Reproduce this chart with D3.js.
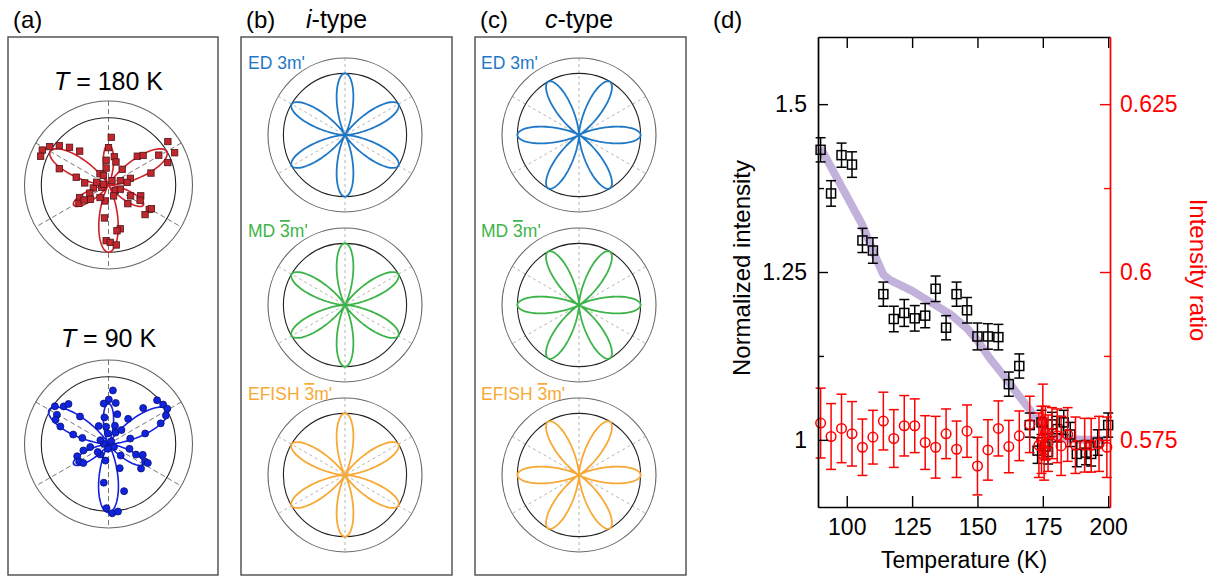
<!DOCTYPE html>
<html><head><meta charset="utf-8">
<script src="https://cdn.jsdelivr.net/npm/d3@7/dist/d3.min.js"></script>
<style>
body{margin:0;background:#fff}
svg{display:block}
text{font-family:"Liberation Sans",Arial,sans-serif}
</style>
</head><body>
<svg id="c" width="1222" height="578"></svg>
<script>
// ---------------- DATA ----------------
// Panel (a): polar SHG data (angle in degrees, normalized intensity)
const redAngle = [86.7,90,78.4,95.5,72,98,127,49,17,15.7,45,40.5,30.7,36.2,26,20.7,152.2,157,146.8,141.3,136,130.4,161.7,166.4,175,191,199,203.5,211.8,203.6,218.4,211.5,333.8,341.4,334.2,316,329,321,331,263,285,280.5,267.6,271.7,277.4,172,52,320,258,341,295,20,167,118,8,236];
const redValue = [0.71,0.556,0.43,0.37,0.36,0.255,0.21,0.31,0.34,0.656,0.606,0.677,0.87,1.095,1.095,0.944,1.114,1.097,1.044,0.938,0.807,0.662,0.771,0.494,0.355,0.23,0.107,0.468,0.517,0.303,0.342,0.426,0.366,0.506,0.522,0.40,0.707,0.70,0.73,0.494,0.675,0.693,0.829,0.854,0.90,0.076,0.083,0.133,0.243,0.187,0.179,0.189,0.18,0.16,0.28,0.225];
const blueAngle = [85.3,89.6,96.7,80,98.7,73.5,70.6,97.8,93.7,58,52,46,42,35.8,31,26.4,21.6,16,14,47,144.9,140,135,150.5,155.5,160,136,118.6,165,166.9,189.5,194.4,201.4,211,217,232,216.8,347,339,342.4,334.3,334.2,323,316.7,259.6,263,294.9,288.3,268.2,273.1,278,176,45,331,262,155];
const blueValue = [0.80,0.662,0.606,0.62,0.40,0.463,0.289,0.26,0.157,0.20,0.475,0.743,0.973,1.003,1.02,0.953,0.836,0.568,0.333,0.283,0.975,0.871,0.842,0.882,0.866,0.762,0.589,0.305,0.544,0.40,0.276,0.386,0.50,0.508,0.469,0.198,0.2,0.321,0.438,0.535,0.605,0.65,0.606,0.25,0.251,0.58,0.396,0.739,0.955,1.032,1.015,0.071,0.057,0.093,0.071,0.133];
const fitTitles = ["180 K", "90 K"];
const fitMajorLobe = [1.0, 1.02];   // fitted lobe maxima (directions 30,150,270 deg)
const fitMinorLobe = [0.60, 0.60];  // fitted lobe maxima (directions 90,210,330 deg)

// Panels (b),(c): symmetry models
const modeNames = ["ED", "MD", "EFISH"];
const modeGroup = ["3m'", "3m'", "3m'"];
const modeBar = [false, true, true];
const modeColors = ["#1f78c6", "#3db449", "#f8a935"];
const petalDirection = {b: 90, c: 0}; // degrees of one petal
const petalAmp = [1, 1, 1];

// Panel (d)
const blackT = [90,94,98,102,106,110,114,118,122,126,130,134,138,142,146,150,154,158,162,166,170,173,174.5,176,177,178.5,180.5,183,185.5,188,191.5,193.5,196,200];
const blackV = [1.432,1.367,1.424,1.410,1.297,1.282,1.217,1.180,1.189,1.181,1.185,1.225,1.167,1.217,1.193,1.154,1.154,1.153,1.083,1.110,1.022,0.984,1.026,0.990,0.982,1.023,1.016,1.026,1.008,0.979,0.981,0.979,0.996,1.022];
const blackErr = [0.018,0.019,0.018,0.019,0.018,0.019,0.018,0.019,0.02,0.019,0.018,0.019,0.018,0.018,0.019,0.02,0.019,0.019,0.018,0.018,0.018,0.019,0.018,0.019,0.018,0.018,0.019,0.018,0.018,0.019,0.018,0.018,0.019,0.018];
const redT = [90,94,98,102,106,110,114,118,122,126,130,134,138,142,146,150,154,158,162,166,170,173.5,174.5,175,175.5,176,177,178.5,180.5,182,184.5,187.5,191,193.5,196.5,199.5];
const redV = [0.5775,0.5755,0.5767,0.5759,0.5739,0.5754,0.5778,0.5752,0.5771,0.5771,0.5746,0.5739,0.5759,0.5736,0.5763,0.5711,0.5735,0.5767,0.5740,0.5756,0.5773,0.5742,0.5750,0.5778,0.5735,0.5760,0.5745,0.5760,0.5756,0.5741,0.5758,0.5742,0.5742,0.5742,0.5744,0.5739];
const redErr = [0.0052,0.0049,0.0051,0.0048,0.0042,0.0040,0.0043,0.0043,0.0045,0.0040,0.0040,0.0046,0.0037,0.0042,0.0039,0.0043,0.0045,0.0041,0.0039,0.0037,0.0042,0.0048,0.0050,0.0055,0.0045,0.0040,0.0042,0.0038,0.0040,0.0044,0.0040,0.0042,0.0040,0.0040,0.0041,0.0045];
const guideT = [90,105.7,111.5,114,116.6,125,133,140,146,150,155,160,165,170,173,175.5,178,182,190,200];
const guideV = [1.435,1.322,1.268,1.246,1.238,1.222,1.203,1.186,1.166,1.148,1.12,1.096,1.07,1.045,1.028,1.014,1.006,1.002,1.0,1.0];
const xTicks = [100,125,150,175,200];
const yLeftTicks = [1,1.25,1.5];
const yLeftMinor = [1.125,1.375];
const yRightTicks = [0.575,0.6,0.625];
const yRightMinor = [0.5875,0.6125];

// ---------------- DRAW ----------------
const svg = d3.select("#c");
const FONT = '"Liberation Sans",Arial,sans-serif';
const rad = d => d * Math.PI / 180;

// panel frames
[[8,37,218,575],[241,37,452,575],[475,37,686,575]].forEach(b => {
  svg.append("rect").attr("x",b[0]).attr("y",b[1]).attr("width",b[2]-b[0]).attr("height",b[3]-b[1])
    .attr("fill","none").attr("stroke","#4a4a4a").attr("stroke-width",1.4);
});

// panel letters
function label(x, y, parts, size, fill) {
  const t = svg.append("text").attr("x", x).attr("y", y).attr("font-size", size).attr("fill", fill || "#000");
  parts.forEach(p => t.append("tspan").attr("font-style", p[1] ? "italic" : "normal").text(p[0]));
  return t;
}
label(13, 28, [["(a)"]], 24);
label(246, 28, [["(b)"]], 24);
label(306, 28, [["i", true], ["-type"]], 25);
label(480, 28, [["(c)"]], 24);
label(545, 28, [["c", true], ["-type"]], 25);
label(713, 28, [["(d)"]], 24);

// polar frame helper: circles at r=1 and r=1.25, dashed spokes
function polarFrame(g, rScale, gridColor, dash) {
  [30, 90, 150].forEach(a => {
    const p1 = d3.pointRadial(rad(90 - a), rScale(1.25));
    g.append("line").attr("x1", p1[0]).attr("y1", p1[1]).attr("x2", -p1[0]).attr("y2", -p1[1])
      .attr("stroke", gridColor).attr("stroke-width", 1).attr("stroke-dasharray", dash);
  });
  g.append("circle").attr("r", rScale(1.25)).attr("fill", "none").attr("stroke", "#666").attr("stroke-width", 1.1);
  g.append("circle").attr("r", rScale(1)).attr("fill", "none").attr("stroke", "#222").attr("stroke-width", 1.1);
}

// ---- panel (a)
const aCenters = [[108.5, 185], [108.5, 444]];
const aTitleY = [90, 347];
const aR = d3.scaleLinear().domain([0, 1.25]).range([0, 84]);
const aSets = [
  {ang: redAngle, val: redValue, line: "#cf2027", fill: "#c1272d", stroke: "#4d1517", shape: "square"},
  {ang: blueAngle, val: blueValue, line: "#1420e6", fill: "#1024e0", stroke: "#0a1070", shape: "circle"}
];
aSets.forEach((s, i) => {
  const t = svg.append("text").attr("x", aCenters[i][0]).attr("y", aTitleY[i]).attr("text-anchor", "middle").attr("font-size", 25);
  t.append("tspan").attr("font-style", "italic").text("T");
  t.append("tspan").text(" = " + fitTitles[i]);
  const g = svg.append("g").attr("transform", `translate(${aCenters[i][0]},${aCenters[i][1]})`);
  polarFrame(g, aR, "#777", "5,3");
  const A = (Math.sqrt(fitMajorLobe[i]) + Math.sqrt(fitMinorLobe[i])) / 2;
  const C = (Math.sqrt(fitMajorLobe[i]) - Math.sqrt(fitMinorLobe[i])) / 2;
  const fitPts = d3.range(0, 360.01, 1).map(a => ({a, v: Math.pow(A * Math.sin(rad(3 * a)) + C, 2)}));
  g.append("path").datum(fitPts)
    .attr("d", d3.lineRadial().angle(d => rad(90 - d.a)).radius(d => aR(d.v)).curve(d3.curveLinearClosed))
    .attr("fill", "none").attr("stroke", s.line).attr("stroke-width", 1.6);
  const pts = s.ang.map((a, k) => d3.pointRadial(rad(90 - a), aR(s.val[k])));
  if (s.shape === "square") {
    g.selectAll(null).data(pts).enter().append("rect")
      .attr("x", d => d[0] - 3.2).attr("y", d => d[1] - 3.2).attr("width", 6.4).attr("height", 6.4)
      .attr("fill", s.fill).attr("stroke", s.stroke).attr("stroke-width", 0.8);
  } else {
    g.selectAll(null).data(pts).enter().append("circle")
      .attr("cx", d => d[0]).attr("cy", d => d[1]).attr("r", 3.5)
      .attr("fill", s.fill).attr("stroke", s.stroke).attr("stroke-width", 0.8);
  }
});

// ---- panels (b),(c)
const bcR = d3.scaleLinear().domain([0, 1.25]).range([0, 77]);
const bcCols = [{key: "b", cx: 345, lx: 248}, {key: "c", cx: 579, lx: 481}];
const bcCY = [135, 305, 475];
const bcLabelY = [69, 237, 400];
bcCols.forEach(col => {
  modeNames.forEach((m, i) => {
    const g = svg.append("g").attr("transform", `translate(${col.cx},${bcCY[i]})`);
    polarFrame(g, bcR, "#b5b5b5", "3,3");
    const ph = petalDirection[col.key];
    const curve = d3.range(0, 360.01, 1).map(a => ({a, v: petalAmp[i] * Math.pow(Math.cos(rad(3 * (a - ph))), 2)}));
    g.append("path").datum(curve)
      .attr("d", d3.lineRadial().angle(d => rad(90 - d.a)).radius(d => bcR(d.v)).curve(d3.curveLinearClosed))
      .attr("fill", "none").attr("stroke", modeColors[i]).attr("stroke-width", 1.8);
    const t = svg.append("text").attr("x", col.lx).attr("y", bcLabelY[i]).attr("font-size", 17.5).attr("fill", modeColors[i]);
    t.append("tspan").text(m + " ");
    const grp = modeGroup[i];
    const s3 = t.append("tspan").text(grp[0]);
    if (modeBar[i]) s3.style("text-decoration", "overline");
    t.append("tspan").text(grp.slice(1));
  });
});

// ---- panel (d)
const x = d3.scaleLinear().domain([89, 200.7]).range([818, 1110]);
const yL = d3.scaleLinear().domain([0.9, 1.6]).range([507, 37]);
const yR = d3.scaleLinear().domain([0.565, 0.635]).range([507, 37]);
const fmt = d => String(d);

function styleAxis(g, color) {
  g.attr("font-size", 23).attr("font-family", FONT);
  g.selectAll("path").attr("stroke", color).attr("stroke-width", 1.4);
  g.selectAll("line").attr("stroke", color).attr("stroke-width", 1.4);
  g.selectAll("text").attr("fill", color);
}
// guide line
svg.append("path").datum(guideT.map((t, i) => [t, guideV[i]]))
  .attr("d", d3.line().x(d => x(d[0])).y(d => yL(d[1])))
  .attr("fill", "none").attr("stroke", "#b7a3d4").attr("stroke-opacity", 0.85).attr("stroke-width", 8)
  .attr("stroke-linejoin", "round").attr("stroke-linecap", "butt");

// black squares with error bars
const gB = svg.append("g").attr("stroke", "#000").attr("stroke-width", 1.5).attr("fill", "none");
blackT.forEach((t, i) => {
  const cx = x(t), y0 = yL(blackV[i] - blackErr[i]), y1 = yL(blackV[i] + blackErr[i]);
  gB.append("line").attr("x1", cx).attr("x2", cx).attr("y1", y0).attr("y2", y1);
  gB.append("line").attr("x1", cx - 5).attr("x2", cx + 5).attr("y1", y0).attr("y2", y0);
  gB.append("line").attr("x1", cx - 5).attr("x2", cx + 5).attr("y1", y1).attr("y2", y1);
  gB.append("rect").attr("x", cx - 4.5).attr("y", yL(blackV[i]) - 4.5).attr("width", 9).attr("height", 9);
});
// red circles with error bars
const gR = svg.append("g").attr("stroke", "#ff0000").attr("stroke-width", 1.5).attr("fill", "none");
redT.forEach((t, i) => {
  const cx = x(t), y0 = yR(redV[i] - redErr[i]), y1 = yR(redV[i] + redErr[i]);
  gR.append("line").attr("x1", cx).attr("x2", cx).attr("y1", y0).attr("y2", y1);
  gR.append("line").attr("x1", cx - 5).attr("x2", cx + 5).attr("y1", y0).attr("y2", y0);
  gR.append("line").attr("x1", cx - 5).attr("x2", cx + 5).attr("y1", y1).attr("y2", y1);
  gR.append("circle").attr("cx", cx).attr("cy", yR(redV[i])).attr("r", 4.8);
});

// axes
const gx = svg.append("g").attr("transform", "translate(0,507)")
  .call(d3.axisBottom(x).tickValues(xTicks).tickFormat(fmt).tickSize(-11).tickSizeOuter(0).tickPadding(12));
styleAxis(gx, "#000");
const gxt = svg.append("g").attr("transform", "translate(0,37)")
  .call(d3.axisTop(x).tickValues(xTicks).tickFormat("").tickSize(-11).tickSizeOuter(0));
styleAxis(gxt, "#000");
const gl = svg.append("g").attr("transform", "translate(818,0)")
  .call(d3.axisLeft(yL).tickValues(yLeftTicks).tickFormat(fmt).tickSize(-10).tickSizeOuter(0).tickPadding(11));
styleAxis(gl, "#000");
const glm = svg.append("g").attr("transform", "translate(818,0)")
  .call(d3.axisLeft(yL).tickValues(yLeftMinor).tickFormat("").tickSize(-6).tickSizeOuter(0));
styleAxis(glm, "#000");
const gr = svg.append("g").attr("transform", "translate(1110,0)")
  .call(d3.axisRight(yR).tickValues(yRightTicks).tickFormat(fmt).tickSize(-10).tickSizeOuter(0).tickPadding(10));
styleAxis(gr, "#ff0000");
const grm = svg.append("g").attr("transform", "translate(1110,0)")
  .call(d3.axisRight(yR).tickValues(yRightMinor).tickFormat("").tickSize(-6).tickSizeOuter(0));
styleAxis(grm, "#ff0000");

svg.append("text").attr("x", 964).attr("y", 568).attr("text-anchor", "middle").attr("font-size", 23).text("Temperature (K)");
svg.append("text").attr("transform", "translate(750,268) rotate(-90)").attr("text-anchor", "middle").attr("font-size", 24).text("Normalized intensity");
svg.append("text").attr("transform", "translate(1190,270) rotate(90)").attr("text-anchor", "middle").attr("font-size", 24).attr("fill", "#ff0000").text("Intensity ratio");
</script>
</body></html>
